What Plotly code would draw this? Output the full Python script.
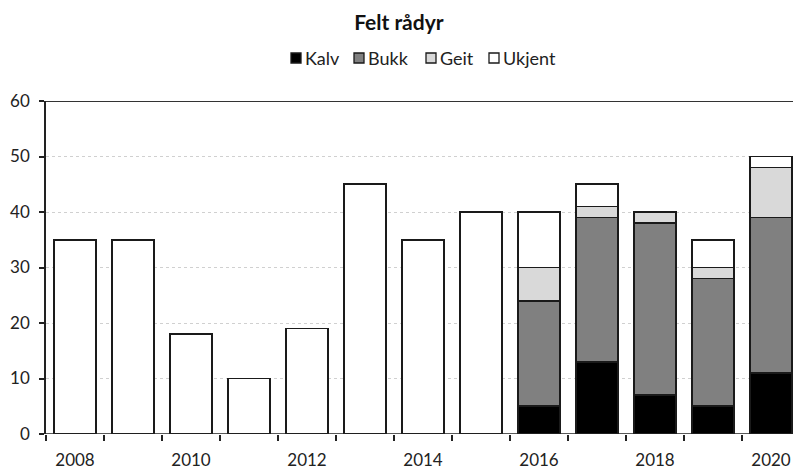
import plotly.graph_objects as go

# Felt rådyr per år, fordelt på kategori
years = [2008, 2009, 2010, 2011, 2012, 2013, 2014, 2015, 2016, 2017, 2018, 2019, 2020]
kalv = [None, None, None, None, None, None, None, None, 5, 13, 7, 5, 11]
bukk = [None, None, None, None, None, None, None, None, 19, 26, 31, 23, 28]
geit = [None, None, None, None, None, None, None, None, 6, 2, 2, 2, 9]
ukjent = [35, 35, 18, 10, 19, 45, 35, 40, 10, 4, None, 5, 2]

label_years = [2008, 2010, 2012, 2014, 2016, 2018, 2020]
y_ticks = [0, 10, 20, 30, 40, 50, 60]

FONT = "Lato"
W, H = 793, 469
ML, MR, MT, MB = 46, 0, 101, 35
PW, PH = W - ML - MR, H - MT - MB

series = [
    ("Kalv", kalv, "#000000"),
    ("Bukk", bukk, "#808080"),
    ("Geit", geit, "#d9d9d9"),
    ("Ukjent", ukjent, "#ffffff"),
]

fig = go.Figure()
for name, vals, color in series:
    fig.add_trace(go.Bar(
        x=years, y=vals, name=name, showlegend=False,
        marker=dict(color=color, line=dict(color="#1a1a1a", width=1.6)),
    ))

boundaries = [y - 0.5 for y in years] + [years[-1] + 0.5]

fig.update_layout(
    barmode="stack",
    bargap=0.276,
    width=W, height=H,
    margin=dict(l=ML, r=MR, t=MT, b=MB),
    paper_bgcolor="white", plot_bgcolor="white",
    font=dict(family=FONT, size=17, color="#222222"),
    title=dict(text="<b>Felt rådyr</b>", x=0.503, xanchor="center",
               y=1 - 23 / H, yanchor="middle", font=dict(size=21, color="#111111")),
)

fig.update_xaxes(
    range=[2007.5, 2007.5 + PW / 58],
    tickvals=label_years, ticktext=[str(y) for y in label_years],
    ticks="", showgrid=False, zeroline=False, showline=False,
    ticklabelstandoff=14,
    tickfont=dict(size=17),
    minor=dict(tickvals=boundaries, ticks="outside", ticklen=6,
               tickcolor="#222222", tickwidth=1.5, showgrid=False),
)
fig.update_yaxes(
    range=[0, 60], tickvals=y_ticks,
    ticks="outside", ticklen=5, tickcolor="#222222", tickwidth=1.5,
    ticklabelstandoff=6,
    showline=True, linecolor="#222222", linewidth=1.6,
    showgrid=True, gridcolor="#d0d0d0", griddash="dot", gridwidth=1,
    zeroline=False, tickfont=dict(size=17),
)

# Baseline and top frame line
fig.add_shape(type="line", xref="paper", yref="y", x0=0, x1=1, y0=0, y1=0,
              line=dict(color="#222222", width=1.5), layer="above")
fig.add_shape(type="line", xref="paper", yref="y", x0=0, x1=1, y0=60, y1=60,
              line=dict(color="#333333", width=1.8), layer="above")


# Legend row drawn with small squares and labels, pixel positions converted to paper
def px_x(px):
    return (px - ML) / PW


def px_y(py):
    return (H - MB - py) / PH


legend_y = 58
square_left = [291, 354, 426, 489]
for (name, _, color), sx in zip(series, square_left):
    fig.add_shape(type="rect", xref="paper", yref="paper",
                  x0=px_x(sx), x1=px_x(sx + 10),
                  y0=px_y(legend_y + 5), y1=px_y(legend_y - 5),
                  fillcolor=color, line=dict(color="#1a1a1a", width=1.3))
    fig.add_annotation(text=name, xref="paper", yref="paper",
                       x=px_x(sx + 12), y=px_y(legend_y), xanchor="left",
                       yanchor="middle", showarrow=False,
                       font=dict(size=18, color="#222222"))

fig.write_html("out.html")
